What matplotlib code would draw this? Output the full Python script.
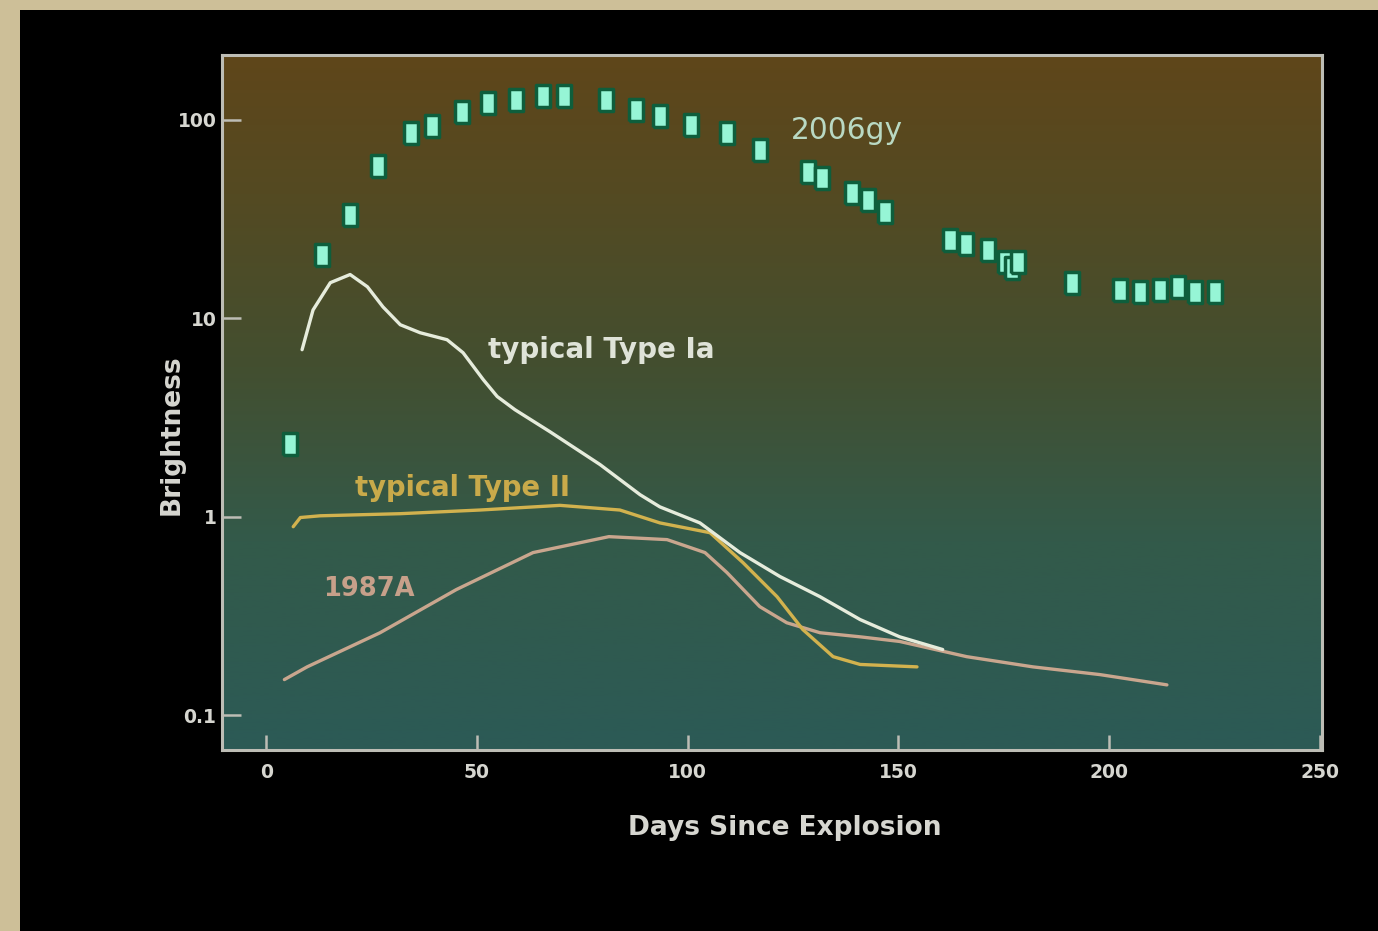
import numpy as np
import matplotlib
matplotlib.use("Agg")
import matplotlib.pyplot as plt
from matplotlib.colors import LinearSegmentedColormap
from matplotlib.patches import Rectangle

# ---- data -------------------------------------------------------------
# SN 2006gy observations (days since explosion, relative brightness)
sn2006gy_days = [5.7, 13.3, 19.9, 26.6, 34.4, 39.4, 46.5, 52.6, 59.3, 65.7,
                 70.7, 80.6, 87.7, 93.4, 100.8, 109.3, 117.1, 128.5, 131.8,
                 139.0, 142.8, 146.8, 162.2, 166.0, 171.2, 175.2, 176.9,
                 178.3, 191.1, 202.5, 207.3, 212.0, 216.3, 220.3, 225.0]
sn2006gy_bright = [2.33, 20.9, 33.2, 58.6, 86.0, 93.0, 110.0, 122.0, 126.0,
                   131.0, 131.0, 126.0, 112.0, 104.0, 94.0, 86.0, 70.6, 54.7,
                   51.0, 42.9, 39.5, 34.4, 24.8, 23.7, 22.1, 19.3, 18.0, 19.3,
                   15.1, 13.8, 13.5, 13.9, 14.3, 13.6, 13.5]

# typical Type Ia light curve
type_ia_days = [8.5, 11.1, 15.2, 19.9, 24.0, 27.7, 31.8, 36.5, 42.9, 46.7,
                51.5, 54.8, 59.0, 67.3, 79.2, 88.7, 93.4, 102.9, 112.4,
                121.9, 131.4, 140.9, 150.3, 160.5]
type_ia_bright = [6.94, 11.0, 15.1, 16.6, 14.4, 11.4, 9.27, 8.45, 7.79, 6.70,
                  4.90, 4.03, 3.46, 2.68, 1.83, 1.29, 1.12, 0.93, 0.659,
                  0.499, 0.395, 0.303, 0.248, 0.214]

# typical Type II light curve
type_ii_days = [6.4, 8.1, 12.8, 31.8, 50.7, 69.7, 83.9, 93.4, 105.3, 113.1,
                121.2, 127.3, 134.5, 140.9, 154.4]
type_ii_bright = [0.89, 0.99, 1.01, 1.035, 1.08, 1.14, 1.08, 0.93, 0.83,
                  0.587, 0.395, 0.27, 0.197, 0.18, 0.175]

# SN 1987A light curve
sn1987a_days = [4.3, 9.7, 27.0, 45.1, 63.3, 81.3, 95.1, 104.1, 109.3, 117.1,
                123.5, 131.4, 140.9, 150.3, 166.2, 181.9, 197.8, 213.7]
sn1987a_bright = [0.151, 0.175, 0.26, 0.429, 0.659, 0.793, 0.766, 0.659,
                  0.523, 0.352, 0.292, 0.26, 0.248, 0.235, 0.197, 0.175,
                  0.16, 0.142]

x_ticks = [0, 50, 100, 150, 200, 250]
y_ticks = [0.1, 1, 10, 100]
y_tick_labels = ["0.1", "1", "10", "100"]

# ---- figure -----------------------------------------------------------
W, H = 1378, 931
fig = plt.figure(figsize=(W / 100, H / 100), dpi=100, facecolor="#cdbf98")
panel = Rectangle((20 / W, 0), 1, (H - 10) / H, transform=fig.transFigure,
                  facecolor="black", edgecolor="none", zorder=-10)
fig.add_artist(panel)

ax = fig.add_axes([222 / W, (H - 750) / H, 1100 / W, 695 / H])
ax.set_zorder(1)
ax.set_yscale("log")
ax.set_xlim(-10.5, 250.5)
ax.set_ylim(0.0667, 212)

# vertical colour gradient: teal at the bottom to brown at the top
grad_cmap = LinearSegmentedColormap.from_list(
    "bg", [(0.0, "#2c5a56"), (0.3, "#335a4a"), (0.55, "#434f30"),
           (0.8, "#544a22"), (1.0, "#5f461a")])
grad = np.linspace(0, 1, 256).reshape(-1, 1)
ax.imshow(grad, cmap=grad_cmap, origin="lower", aspect="auto",
          extent=[0, 1, 0, 1], transform=ax.transAxes, zorder=0)

lw = 2.4
ax.plot(sn1987a_days, sn1987a_bright, color="#c9a68e", lw=lw,
        solid_joinstyle="round", solid_capstyle="round", zorder=2)
ax.plot(type_ii_days, type_ii_bright, color="#d2b24e", lw=lw,
        solid_joinstyle="round", solid_capstyle="round", zorder=3)
ax.plot(type_ia_days, type_ia_bright, color="#e6ecdc", lw=lw,
        solid_joinstyle="round", solid_capstyle="round", zorder=4)

box = [(-0.3, -0.5), (0.3, -0.5), (0.3, 0.5), (-0.3, 0.5), (-0.3, -0.5)]
ax.plot(sn2006gy_days, sn2006gy_bright, linestyle="none", marker=box,
        markersize=16, markerfacecolor="#96f5d6", markeredgecolor="#0e5e3c",
        markeredgewidth=2.5, zorder=5)

# curve labels
ax.text(52.6, 6.9, "typical Type Ia", color="#dfe3d8", fontsize=20,
        fontweight="bold", va="center", ha="left", zorder=6)
ax.text(21.0, 1.40, "typical Type II", color="#c9aa4a", fontsize=19.8,
        fontweight="bold", va="center", ha="left", zorder=6)
ax.text(13.5, 0.43, "1987A", color="#c7a08a", fontsize=18.5,
        fontweight="bold", va="center", ha="left", zorder=6)
ax.text(124.5, 88, "2006gy", color="#b9d9c3", fontsize=21.3,
        va="center", ha="left", zorder=6)

# axes styling
spine_col = "#bdbdb5"
for sp in ax.spines.values():
    sp.set_color(spine_col)
    sp.set_linewidth(2.2)
    sp.set_zorder(7)

ax.set_xticks(x_ticks)
ax.set_yticks(y_ticks)
ax.set_yticklabels(y_tick_labels)
ax.minorticks_off()
ax.tick_params(axis="both", direction="in", color=spine_col, width=1.8,
               labelcolor="#d6d6d0", labelsize=13.5)
ax.tick_params(axis="y", length=14, pad=4)
ax.tick_params(axis="x", length=11, pad=9)
for lab in ax.get_xticklabels() + ax.get_yticklabels():
    lab.set_fontweight("bold")

ax.set_xlabel("Days Since Explosion", color="#d6d6d0", fontsize=19,
              fontweight="bold")
ax.set_ylabel("Brightness", color="#d6d6d0", fontsize=19, fontweight="bold")
ax.xaxis.set_label_coords(0.512, -0.093)
ax.yaxis.set_label_coords(-0.034, 0.453)

fig.savefig("out.png", dpi=100, facecolor=fig.get_facecolor())
